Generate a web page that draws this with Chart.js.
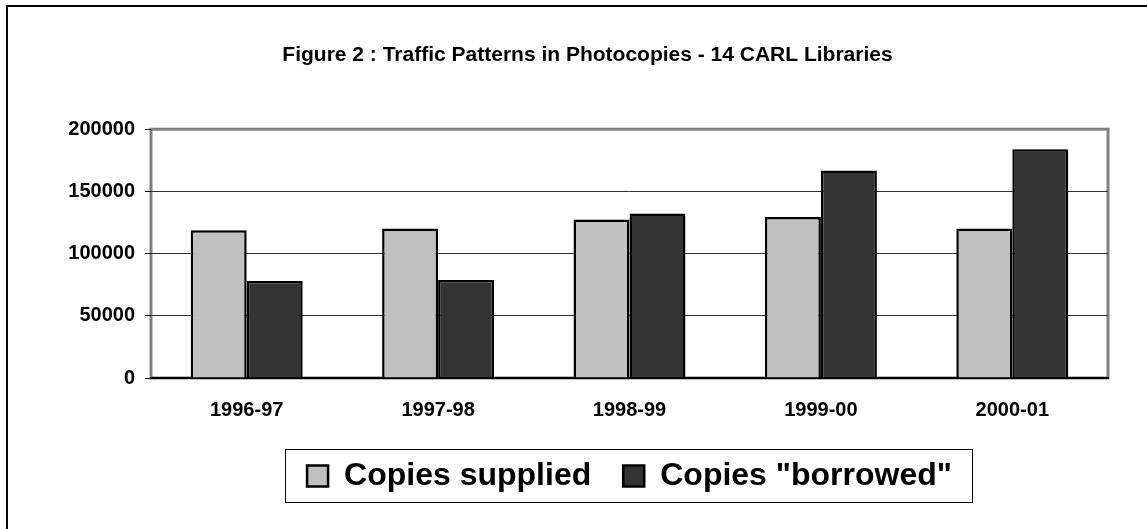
<!DOCTYPE html>
<html>
<head>
<meta charset="utf-8">
<script src="https://cdn.jsdelivr.net/npm/chart.js@4"></script>
<style>
  html, body { margin: 0; padding: 0; background: #fff; overflow: hidden; }
  #marco {
    position: absolute; left: 6px; top: 5px;
    width: 1300px; height: 700px;
    border: 2px solid #000;
  }
  #contenedor {
    position: absolute; left: 0; top: 0;
    width: 1147px; height: 529px;
  }
</style>
</head>
<body>
<div id="marco"></div>
<div id="contenedor">
  <canvas id="grafico"></canvas>
</div>
<script>
const categorias = ['1996-97', '1997-98', '1998-99', '1999-00', '2000-01'];
const copiasSuministradas = [118800, 120100, 127400, 129500, 120100];
const copiasPrestadas = [77900, 78700, 132200, 166900, 183800];
const marcasY = [0, 50000, 100000, 150000, 200000];

const fuente = "'Liberation Sans', Arial, sans-serif";

// marco gris del area de trazado (estilo Excel)
const marcoArea = {
  id: 'marcoArea',
  beforeDraw(chart) {
    const { ctx, chartArea: a } = chart;
    ctx.save();
    ctx.strokeStyle = '#808080';
    ctx.lineWidth = 3;
    ctx.strokeRect(a.left, a.top, a.right - a.left, a.bottom - a.top);
    ctx.restore();
  }
};

// caja alrededor de la leyenda
const cajaLeyenda = {
  id: 'cajaLeyenda',
  afterDraw(chart) {
    const leyenda = chart.legend;
    if (!leyenda || !leyenda.legendHitBoxes.length) return;
    const cajas = leyenda.legendHitBoxes;
    const izq = Math.min(...cajas.map(c => c.left));
    const der = Math.max(...cajas.map(c => c.left + c.width));
    const centroY = cajas[0].top + cajas[0].height / 2;
    const ctx = chart.ctx;
    ctx.save();
    ctx.strokeStyle = '#000';
    ctx.lineWidth = 1;
    ctx.strokeRect(Math.round(izq - 22) + 0.5, Math.round(centroY - 27) + 0.5, Math.round(der - izq + 42), 53);
    ctx.restore();
  }
};

const config = {
  type: 'bar',
  data: {
    labels: categorias,
    datasets: [
      {
        label: 'Copies supplied',
        data: copiasSuministradas,
        backgroundColor: '#C0C0C0',
        borderColor: '#000',
        borderWidth: 2.5
      },
      {
        label: 'Copies "borrowed"',
        data: copiasPrestadas,
        backgroundColor: '#333333',
        borderColor: '#000',
        borderWidth: 2.5
      }
    ]
  },
  options: {
    responsive: true,
    maintainAspectRatio: false,
    animation: false,
    layout: { padding: { left: 67, right: 39, top: 0, bottom: 27 } },
    datasets: {
      bar: { categoryPercentage: 0.585, barPercentage: 1.0 }
    },
    plugins: {
      title: {
        display: true,
        text: 'Figure 2 : Traffic Patterns in Photocopies - 14 CARL Libraries',
        color: '#000',
        font: { family: fuente, size: 21, weight: 'bold' },
        padding: { top: 43, bottom: 61 }
      },
      legend: {
        position: 'bottom',
        fullSize: false,
        labels: {
          color: '#000',
          font: { family: fuente, size: 32, weight: 'bold' },
          boxWidth: 21,
          boxHeight: 21,
          padding: 32
        }
      },
      tooltip: { enabled: false }
    },
    scales: {
      x: {
        grid: { display: false, drawTicks: false },
        border: { display: true, color: '#000', width: 2 },
        afterFit(eje) { eje.height = 50; },
        ticks: {
          color: '#000',
          padding: 20,
          font: { family: fuente, size: 20, weight: 'bold' }
        }
      },
      y: {
        min: 0,
        max: 200000,
        afterFit(eje) { eje.width = 84; },
        afterBuildTicks(eje) { eje.ticks = marcasY.map(v => ({ value: v })); },
        ticks: {
          color: '#000',
          padding: 10,
          callback: v => String(v),
          font: { family: fuente, size: 20, weight: 'bold' }
        },
        grid: {
          color: ctx => (ctx.tick && (ctx.tick.value === 0 || ctx.tick.value === 200000)) ? 'rgba(0,0,0,0)' : '#333',
          lineWidth: 1,
          tickLength: 6,
          tickColor: '#000'
        },
        border: { display: false }
      }
    }
  },
  plugins: [marcoArea, cajaLeyenda]
};

const myChart = new Chart(document.getElementById('grafico'), config);
</script>
</body>
</html>
